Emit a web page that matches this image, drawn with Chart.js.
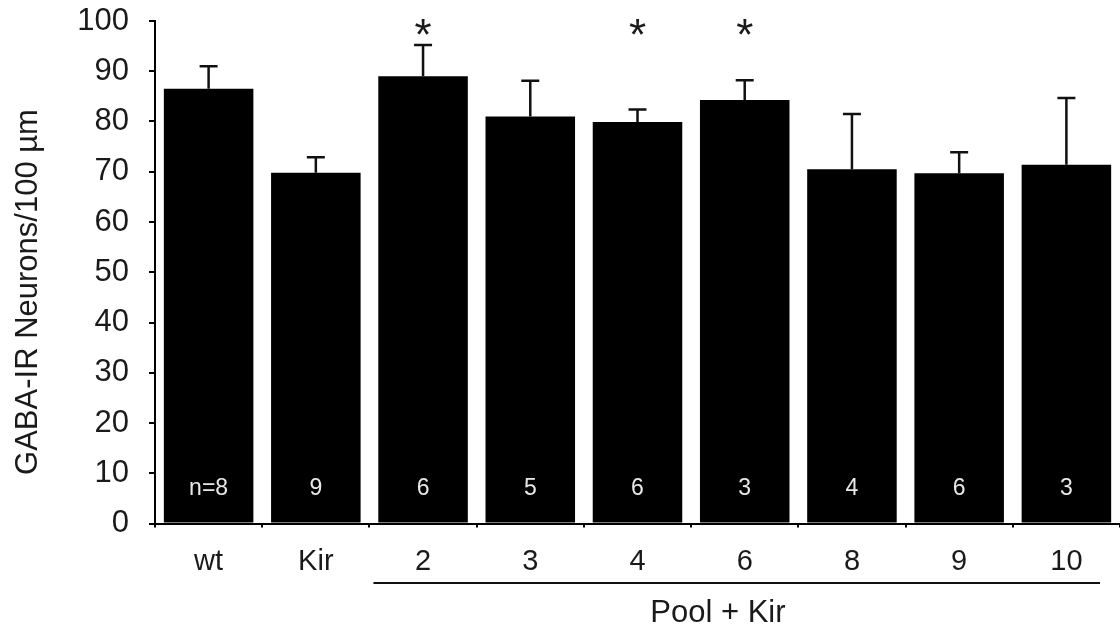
<!DOCTYPE html>
<html>
<head>
<meta charset="utf-8">
<script src="https://cdn.jsdelivr.net/npm/chart.js@4/dist/chart.umd.min.js"></script>
<style>
  body { margin: 0; background: #fff; }
  #wrap { width: 1120px; height: 629px; position: relative; }
</style>
</head>
<body>
<div id="wrap"><canvas id="chart"></canvas></div>
<script>
// groups along the x axis
const labels = ['wt', 'Kir', '2', '3', '4', '6', '8', '9', '10'];
// mean GABA-IR neurons per 100 µm
const means = [86.5, 69.8, 89.0, 81.0, 79.9, 84.3, 70.5, 69.7, 71.4];
// upper error (SEM)
const sems = [4.5, 3.1, 6.2, 7.1, 2.5, 3.9, 11.0, 4.2, 13.3];
// sample sizes written inside the bars
const nCounts = ['n=8', '9', '6', '5', '6', '3', '4', '6', '3'];
// groups marked with an asterisk
const significant = [false, false, true, false, true, true, false, false, false];
const yTicks = [0, 10, 20, 30, 40, 50, 60, 70, 80, 90, 100];
const yTitle = 'GABA-IR Neurons/100 µm';
const groupLabel = 'Pool + Kir';

const FONT = '"Liberation Sans", Arial, sans-serif';
const INK = '#1a1a1a';

// error bars, n labels, asterisks, the group bracket and the y title
const extras = {
  id: 'extras',
  afterDatasetsDraw(chart) {
    const { ctx, chartArea, scales: { x, y } } = chart;
    const meta = chart.getDatasetMeta(0);
    const catW = chartArea.width / labels.length;
    ctx.save();

    ctx.strokeStyle = '#111';
    ctx.lineWidth = 2.5;
    meta.data.forEach((bar, i) => {
      const top = y.getPixelForValue(means[i] + sems[i]);
      ctx.beginPath();
      ctx.moveTo(bar.x, bar.y);
      ctx.lineTo(bar.x, top);
      ctx.moveTo(bar.x - 9, top);
      ctx.lineTo(bar.x + 9, top);
      ctx.stroke();
    });

    ctx.fillStyle = '#e8e8e8';
    ctx.font = '23px ' + FONT;
    ctx.textAlign = 'center';
    ctx.textBaseline = 'middle';
    meta.data.forEach((bar, i) => {
      ctx.fillText(nCounts[i], bar.x, y.getPixelForValue(7));
    });

    ctx.fillStyle = INK;
    ctx.font = '44px ' + FONT;
    ctx.textBaseline = 'alphabetic';
    meta.data.forEach((bar, i) => {
      if (significant[i]) {
        ctx.fillText('*', bar.x, y.getPixelForValue(99.2) + 0.57 * 44);
      }
    });

    // bracket under the pooled groups
    const left = x.getPixelForValue(2) - catW / 2 + 4;
    const right = chartArea.right - 20;
    ctx.strokeStyle = '#111';
    ctx.lineWidth = 2.2;
    ctx.beginPath();
    ctx.moveTo(left, 583);
    ctx.lineTo(right, 583);
    ctx.stroke();

    ctx.font = '31px ' + FONT;
    ctx.textBaseline = 'middle';
    ctx.fillText(groupLabel, x.getPixelForValue(4) + 0.75 * catW, 613);

    ctx.translate(28, 292);
    ctx.rotate(-Math.PI / 2);
    ctx.font = '31px ' + FONT;
    ctx.fillText(yTitle, 0, 0);
    ctx.restore();
  }
};

new Chart(document.getElementById('chart'), {
  type: 'bar',
  data: {
    labels: labels,
    datasets: [{
      data: means,
      backgroundColor: '#000',
      borderWidth: 0,
      barPercentage: 0.835,
      categoryPercentage: 1
    }]
  },
  options: {
    responsive: true,
    maintainAspectRatio: false,
    animation: false,
    layout: { padding: { top: 21, right: 0, bottom: 0, left: 0 } },
    plugins: {
      legend: { display: false },
      tooltip: { enabled: false }
    },
    scales: {
      x: {
        afterFit: (s) => { s.height = 105.5; s.paddingLeft = 0; s.paddingRight = 0; },
        grid: { offset: true, drawOnChartArea: false, tickLength: 4, color: '#000', lineWidth: 2 },
        border: { color: '#000', width: 2 },
        ticks: { color: INK, font: { family: FONT, size: 29 }, padding: 17, maxRotation: 0 }
      },
      y: {
        min: 0,
        max: 100,
        afterFit: (s) => { s.width = 155; s.paddingTop = 0; s.paddingBottom = 0; },
        afterBuildTicks: (s) => { s.ticks = yTicks.map(v => ({ value: v })); },
        grid: { drawOnChartArea: false, tickLength: 6, color: '#000', lineWidth: 2 },
        border: { color: '#000', width: 2 },
        ticks: { color: INK, font: { family: FONT, size: 31 }, padding: 20 }
      }
    }
  },
  plugins: [extras]
});
</script>
</body>
</html>
